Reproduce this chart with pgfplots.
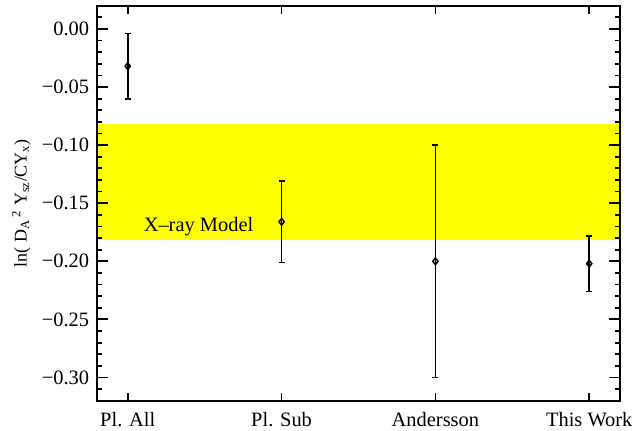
\documentclass[border=0pt]{standalone}
\usepackage{pgfplots}
\pgfplotsset{compat=1.18}
\usepackage{fontspec}
\setmainfont{Liberation Serif}
\definecolor{yel}{RGB}{255,255,0}
\begin{document}
\fontsize{20}{24}\selectfont
\begin{tikzpicture}
\begin{axis}[
  at={(0,0)}, anchor=south west,
  scale only axis, width=523bp, height=395bp,
  xmin=-0.2, xmax=3.2, ymin=-0.32, ymax=0.02,
  axis line style={line width=2pt},
  axis on top,
  tick style={line width=1.8pt, black},
  tick align=inside,
  major tick length=11bp, minor tick length=5bp,
  xtick=\empty,
  extra x ticks={0,1,2,3},
  extra x tick labels={Pl. All, Pl. Sub, Andersson, This Work},
  extra x tick style={major tick length=8bp},
  ytick={0,-0.05,-0.10,-0.15,-0.20,-0.25,-0.30},
  yticklabels={0.00,−0.05,−0.10,−0.15,−0.20,−0.25,−0.30},
  minor ytick={0.01,-0.01,-0.02,-0.03,-0.04,-0.06,-0.07,-0.08,-0.09,-0.11,-0.12,-0.13,-0.14,-0.16,-0.17,-0.18,-0.19,-0.21,-0.22,-0.23,-0.24,-0.26,-0.27,-0.28,-0.29,-0.31},
  ticklabel style={font=\fontsize{20.5}{24}\selectfont},
  yticklabel style={xshift=-1bp},
  ylabel={ln( D\textsubscript{A}\,\textsuperscript{2} Y\textsubscript{sz}/CY\textsubscript{x})},
  ylabel style={font=\fontsize{18}{21}\selectfont, yshift=-2bp},
  xticklabel style={yshift=-5bp},
  clip=true,
]
\addplot[fill=yel, draw=none] coordinates {(-0.2,-0.082) (3.2,-0.082) (3.2,-0.182) (-0.2,-0.182)} -- cycle;
\node[anchor=center, font=\fontsize{20.5}{24}\selectfont] at (axis cs:0.46,-0.170) {X–ray Model};
\addplot[black, line width=1.8pt, only marks, mark=diamond, mark size=3.5pt,
  mark options={line width=1.5pt, fill=none},
  error bars/.cd, y dir=both, y explicit,
  error mark=|, error mark options={line width=1.8pt, mark size=3pt, black},
  error bar style={line width=1.8pt, black}]
  coordinates {
  (0,-0.032) +- (0,0.028)
  (1,-0.166) +- (0,0.035)
  (2,-0.200) +- (0,0.100)
  (3,-0.202) +- (0,0.024)
  };
\end{axis}
\pgfresetboundingbox
\useasboundingbox (-97bp,-30.3bp) rectangle (539bp,400.7bp);
\end{tikzpicture}
\end{document}
